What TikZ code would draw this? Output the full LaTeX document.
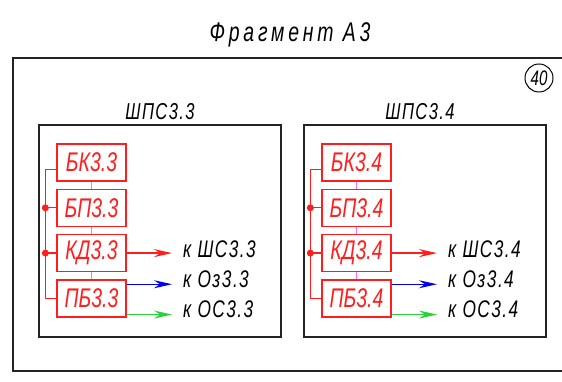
\documentclass[tikz,border=0pt]{standalone}
\usepackage{fontspec}
\setmainfont{Liberation Sans}[FakeStretch=0.72]
\newfontfamily\titlefont{Liberation Sans}[FakeStretch=0.72,LetterSpace=14]
\newfontfamily\widefont{Liberation Sans}[FakeStretch=0.72,LetterSpace=6]
\usetikzlibrary{positioning,arrows.meta}
\definecolor{sh_red}{RGB}{255, 30, 30}
\definecolor{sh_pink}{RGB}{255, 110, 255}
\definecolor{sh_blue}{RGB}{0, 0, 235}
\definecolor{sh_green}{RGB}{40, 210, 60}
\definecolor{sh_frame}{RGB}{35, 35, 35}
\tikzstyle{blk}=[draw=sh_red,text=sh_red,line width=1.3pt,inner sep=0pt,
  minimum width=69pt,minimum height=37pt,font=\fontsize{27}{27}\selectfont\itshape]
\tikzstyle{tgt}=[anchor=base west,inner sep=3pt,font=\widefont\fontsize{24}{24}\selectfont\itshape]
\tikzstyle{lbl}=[font=\widefont\fontsize{23}{23}\selectfont\itshape]
\tikzstyle{bus}=[draw=sh_red,line width=1.3pt]
\tikzstyle{link}=[draw=sh_pink,line width=1.3pt]
\tikzstyle{arr}=[line width=1.3pt,shorten >=8pt,
  -{Stealth[length=18pt,width=8pt,inset=6pt]}]

\begin{document}
\begin{tikzpicture}[x=1pt,y=1pt]
    \useasboundingbox (0,0) rectangle (562,382);
    \node[font=\titlefont\fontsize{27}{27}\selectfont\itshape] (title) at (290,347) {Фрагмент А3};
    \draw[sh_frame,line width=1.4pt] (13,11) rectangle (600,324);
    \node[draw,circle,line width=1pt,minimum size=28pt,inner sep=0pt,
      font=\fontsize{21}{21}\selectfont\itshape] (num) at (539,304) {40};
    % ШПС3.3
    \node[lbl] (shps1) at (160,270) {ШПС3.3};
    \draw[sh_frame,line width=1.3pt] (39,45) rectangle (281,257);
    \node[blk] (bk1) at (91.5,219.5) {БК3.3};
    \node[blk,below=7pt of bk1] (bp1) {БП3.3};
    \node[blk,below=7pt of bp1] (kd1) {КД3.3};
    \node[blk,below=7pt of kd1] (pb1) {ПБ3.3};
    \draw[link] (bk1.south) to (bp1.north);
    \draw[link] (bp1.south) to (kd1.north);
    \draw[link] (kd1.south) to (pb1.north);
    \coordinate (bus1) at ([xshift=-11pt,yshift=-7pt]bk1.west);
    \draw[bus] ([yshift=-7pt]bk1.west) -- (bus1) |- (pb1.west);
    \draw[bus] (bp1.west) -- (bp1.west -| bus1);
    \draw[bus] (kd1.west) -- (kd1.west -| bus1);
    \fill[sh_red] (bp1.west -| bus1) circle (3.5pt);
    \fill[sh_red] (kd1.west -| bus1) circle (3.5pt);
    \node[tgt] (sh1) at (180,124) {к ШС3.3};
    \node[tgt] (oz1) at (180,94) {к Оз3.3};
    \node[tgt] (os1) at (180,64) {к ОС3.3};
    \draw[arr,sh_red] (kd1.east) to (kd1.east -| sh1.west);
    \draw[arr,sh_blue] ([yshift=-5pt]pb1.north east) to ([yshift=-5pt]pb1.north east -| oz1.west);
    \draw[arr,sh_green] ([yshift=3pt]pb1.south east) to ([yshift=3pt]pb1.south east -| os1.west);
    % ШПС3.4
    \node[lbl] (shps2) at (420,270) {ШПС3.4};
    \draw[sh_frame,line width=1.3pt] (304,45) rectangle (546,257);
    \node[blk] (bk2) at (356.5,219.5) {БК3.4};
    \node[blk,below=7pt of bk2] (bp2) {БП3.4};
    \node[blk,below=7pt of bp2] (kd2) {КД3.4};
    \node[blk,below=7pt of kd2] (pb2) {ПБ3.4};
    \draw[link] (bk2.south) to (bp2.north);
    \draw[link] (bp2.south) to (kd2.north);
    \draw[link] (kd2.south) to (pb2.north);
    \coordinate (bus2) at ([xshift=-11pt,yshift=-7pt]bk2.west);
    \draw[bus] ([yshift=-7pt]bk2.west) -- (bus2) |- (pb2.west);
    \draw[bus] (bp2.west) -- (bp2.west -| bus2);
    \draw[bus] (kd2.west) -- (kd2.west -| bus2);
    \fill[sh_red] (bp2.west -| bus2) circle (3.5pt);
    \fill[sh_red] (kd2.west -| bus2) circle (3.5pt);
    \node[tgt] (sh2) at (445,124) {к ШС3.4};
    \node[tgt] (oz2) at (445,94) {к Оз3.4};
    \node[tgt] (os2) at (445,64) {к ОС3.4};
    \draw[arr,sh_red] (kd2.east) to (kd2.east -| sh2.west);
    \draw[arr,sh_blue] ([yshift=-5pt]pb2.north east) to ([yshift=-5pt]pb2.north east -| oz2.west);
    \draw[arr,sh_green] ([yshift=3pt]pb2.south east) to ([yshift=3pt]pb2.south east -| os2.west);
  \end{tikzpicture}
\end{document}
